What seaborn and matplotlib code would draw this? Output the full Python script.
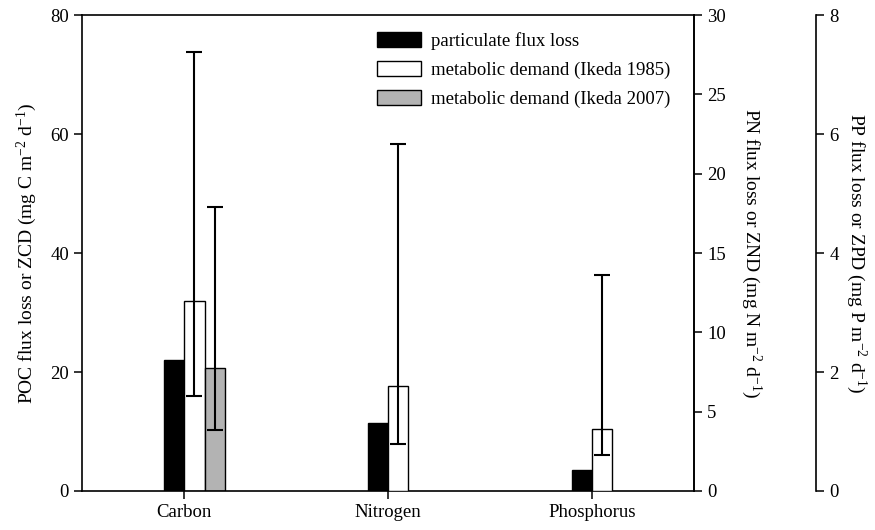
import numpy as np
import pandas as pd
import seaborn as sns
import matplotlib.pyplot as plt
from matplotlib.patches import Patch
from matplotlib.container import BarContainer

# data, each element in its own units
elements = ["Carbon", "Nitrogen", "Phosphorus"]
series = ["particulate flux loss", "metabolic demand (Ikeda 1985)", "metabolic demand (Ikeda 2007)"]

carbon_vals = [22.0, 32.0, 20.7]
carbon_lo = [np.nan, 16.0, 10.2]
carbon_hi = [np.nan, 73.8, 47.7]

nitrogen_vals = [4.3, 6.6]
nitrogen_lo = [np.nan, 2.95]
nitrogen_hi = [np.nan, 21.9]

phosphorus_vals = [0.36, 1.05]
phosphorus_lo = [np.nan, 0.60]
phosphorus_hi = [np.nan, 3.63]

sns.set_theme(style="ticks")
plt.rcParams['font.family'] = ['Liberation Serif', 'DejaVu Serif']
plt.rcParams['mathtext.fontset'] = 'custom'
plt.rcParams['mathtext.rm'] = 'Liberation Serif'
plt.rcParams['mathtext.it'] = 'Liberation Serif:italic'
plt.rcParams['text.color'] = 'black'
plt.rcParams['axes.labelcolor'] = 'black'

palette = dict(zip(series, ["#000000", "#ffffff", "#b3b3b3"]))
FS = 13.5
LFS = 14

fig = plt.figure(figsize=(8.75, 5.3), dpi=100)
ax = fig.add_axes([0.094, 0.0736, 0.699, 0.898])
ax2 = ax.twinx()
ax3 = ax.twinx()
ax3.spines['right'].set_position(('axes', 1.2))


def draw(axis, element, vals, lo, hi):
    df = pd.DataFrame({"element": element, "series": series[:len(vals)], "value": vals})
    sns.barplot(data=df, x="element", y="value", hue="series", order=elements,
                hue_order=series, palette=palette, width=0.3, dodge=True,
                errorbar=None, saturation=1, edgecolor="black", linewidth=1.0,
                legend=False, ax=axis)
    bars = [c for c in axis.containers if isinstance(c, BarContainer)]
    for cont, v, l, h in zip(bars, vals, lo, hi):
        if np.isnan(l):
            continue
        p = cont.patches[0]
        xc = p.get_x() + p.get_width() / 2
        axis.errorbar(xc, v, yerr=[[v - l], [h - v]], fmt='none', ecolor='black',
                      elinewidth=1.5, capsize=5.5, capthick=1.5, zorder=5)


draw(ax, "Carbon", carbon_vals, carbon_lo, carbon_hi)
draw(ax2, "Nitrogen", nitrogen_vals, nitrogen_lo, nitrogen_hi)
draw(ax3, "Phosphorus", phosphorus_vals, phosphorus_lo, phosphorus_hi)

# axes ranges
ax.set_ylim(0, 80)
ax.set_yticks(range(0, 81, 20))
ax2.set_ylim(0, 30)
ax2.set_yticks(range(0, 31, 5))
ax3.set_ylim(0, 8)
ax3.set_yticks(range(0, 9, 2))

# category tick sits on the boundary between first and second bar
tick_shift = -0.05
ax.set_xticks([i + tick_shift for i in range(len(elements))], elements)
ax.set_xlim(-0.5 + tick_shift, len(elements) - 0.5 + tick_shift)
for a in (ax, ax2, ax3):
    a.set_xlabel("")
    a.grid(False)

# spines
for s in ax.spines.values():
    s.set_color('black')
    s.set_linewidth(1.2)
for a in (ax2, ax3):
    for side in ("left", "top", "bottom"):
        a.spines[side].set_visible(False)
    a.spines['right'].set_color('black')
    a.spines['right'].set_linewidth(1.2)

for a in (ax, ax2, ax3):
    a.tick_params(axis='both', direction='out', length=6, width=1.1, color='black',
                  labelcolor='black', labelsize=FS)

# labels
ax.set_ylabel("POC flux loss or ZCD (mg C m$^{-2}$ d$^{-1}$)", fontsize=LFS, va='center')
ax.yaxis.set_label_coords(-0.09, 0.5)
ax2.set_ylabel("PN flux loss or ZND (mg N m$^{-2}$ d$^{-1}$)", fontsize=LFS,
               rotation=270, va='center')
ax2.yaxis.set_label_coords(1.093, 0.5)
ax3.set_ylabel("PP flux loss or ZPD (mg P m$^{-2}$ d$^{-1}$)", fontsize=LFS,
               rotation=270, va='center')
ax3.yaxis.set_label_coords(1.266, 0.5)

# legend
handles = [Patch(facecolor=palette[s], edgecolor='black', linewidth=1.0) for s in series]
ax.legend(handles, series, loc='upper left', bbox_to_anchor=(0.482, 0.964),
          frameon=False, fontsize=FS, handlelength=2.35, handleheight=0.8,
          handletextpad=0.55, labelspacing=0.6, borderpad=0, borderaxespad=0)

fig.savefig("out.png", dpi=100)
plt.close(fig)
